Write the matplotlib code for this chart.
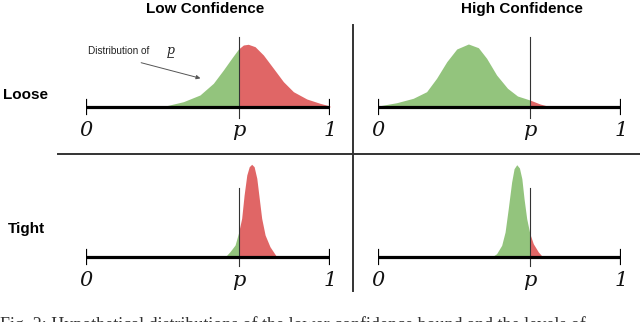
import matplotlib
matplotlib.use('Agg')
import matplotlib.pyplot as plt
from matplotlib.lines import Line2D

# threshold position on the [0, 1] line
p = 0.625

# curves: x in [0, 1], height in pixels above the line
loose_low_x = [0.316, 0.399, 0.467, 0.522, 0.563, 0.597, 0.625, 0.645, 0.665,
               0.693, 0.727, 0.768, 0.809, 0.850, 0.905, 0.959, 1.0]
loose_low_h = [0.5, 5.3, 12, 23.7, 37, 48.7, 58, 62, 62.7,
               60.3, 52, 38.7, 25.3, 15.3, 8, 3.7, 1]

loose_high_x = [0.001, 0.077, 0.145, 0.200, 0.241, 0.283, 0.324, 0.372, 0.413,
                0.447, 0.488, 0.533, 0.574, 0.625, 0.667, 0.708]
loose_high_h = [1, 4.3, 8.7, 15.3, 28.7, 45.3, 58, 63, 59.3,
                48.7, 32, 18.7, 11, 7, 3, 0.3]

tight_low_x = [0.570, 0.590, 0.611, 0.625, 0.638, 0.648, 0.659, 0.669, 0.679,
               0.689, 0.700, 0.710, 0.720, 0.734, 0.754, 0.782]
tight_low_h = [0, 5.3, 12, 24, 38.7, 62, 82, 90.3, 92.7,
               90.3, 78.7, 58.7, 38.7, 22, 10.3, 0]

tight_high_x = [0.468, 0.488, 0.509, 0.523, 0.536, 0.550, 0.560, 0.571, 0.582,
                0.592, 0.601, 0.612, 0.625, 0.639, 0.660, 0.678]
tight_high_h = [0, 3.3, 11.7, 25, 48.3, 75, 88.3, 92.3, 89,
                78.3, 58.3, 38.3, 23.3, 13.3, 5, 0]

col_titles = ['Low Confidence', 'High Confidence']
row_titles = ['Loose', 'Tight']
tick_labels = ['0', 'p', '1']

GREEN = '#93c47d'
RED = '#e06666'
W, H = 640, 322


def fig_box(x0, x1, y_top, y_bot):
    return [x0 / W, 1 - y_bot / H, (x1 - x0) / W, (y_bot - y_top) / H]


def draw_panel(ax, xs, hs, p_top, p_bot):
    left = [(x, h) for x, h in zip(xs, hs) if x <= p]
    right = [(x, h) for x, h in zip(xs, hs) if x >= p]
    if left:
        ax.fill_between([a for a, _ in left], [b for _, b in left], 0,
                        color=GREEN, lw=0, zorder=1)
    if right:
        ax.fill_between([a for a, _ in right], [b for _, b in right], 0,
                        color=RED, lw=0, zorder=1)
    ax.plot([0, 1], [0, 0], color='black', lw=2.3, solid_capstyle='butt', zorder=3)
    for e in (0, 1):
        ax.plot([e, e], [-7, 7], color='black', lw=1.6, zorder=3)
    ax.plot([p, p], [p_bot, p_top], color='#333333', lw=0.8, zorder=2)
    for pos, lab in zip([0, p, 1], tick_labels):
        ax.text(pos, -24, lab, ha='center', va='center', fontsize=15,
                family='DejaVu Serif', style='italic', color='#111111')
    ax.set_xlim(0, 1)
    ax.axis('off')


fig = plt.figure(figsize=(6.4, 3.22), dpi=100)

# top row: baseline at y=107 px, bottom row: baseline at y=257 px
ax_tl = fig.add_axes(fig_box(86, 330, 30, 140))
ax_tl.set_ylim(-33, 77)
ax_tr = fig.add_axes(fig_box(378, 621, 30, 140))
ax_tr.set_ylim(-33, 77)
ax_bl = fig.add_axes(fig_box(86, 330, 160, 290))
ax_bl.set_ylim(-33, 97)
ax_br = fig.add_axes(fig_box(378, 621, 160, 290))
ax_br.set_ylim(-33, 97)

draw_panel(ax_tl, loose_low_x, loose_low_h, 70, -11)
draw_panel(ax_tr, loose_high_x, loose_high_h, 70, -11)
draw_panel(ax_bl, tight_low_x, tight_low_h, 69, -9)
draw_panel(ax_br, tight_high_x, tight_high_h, 69, -9)

for ax in (ax_tl, ax_tr, ax_bl, ax_br):
    ax.patch.set_alpha(0)

# annotation on the first panel
ax_tl.text(0.008, 53, 'Distribution of', fontsize=7.2, family='Liberation Sans',
           ha='left', va='baseline', color='#222222')
ax_tl.text(0.328, 53, 'p', fontsize=9, family='DejaVu Serif', style='italic',
           ha='left', va='baseline', color='#222222')
ax_tl.plot([0.330, 0.357], [49.5, 49.5], color='#222222', lw=0.6)
ax_tl.annotate('', xy=(0.48, 28), xytext=(0.215, 45),
               arrowprops=dict(arrowstyle='-|>', color='#555555', lw=0.7,
                               mutation_scale=6))

# column and row titles
for cx, t in zip([205, 522], col_titles):
    fig.text(cx / W, 1 - 9 / H, t, ha='center', va='center', fontsize=11,
             family='Liberation Sans', weight='bold')
for cy, cxl, t in zip([95, 229], [3, 8], row_titles):
    fig.text(cxl / W, 1 - cy / H, t, ha='left', va='center', fontsize=11,
             family='Liberation Sans', weight='bold')

# divider lines
fig.add_artist(Line2D([353 / W, 353 / W], [1 - 25 / H, 1 - 291 / H],
                      color='#333333', lw=1.4))
fig.add_artist(Line2D([58 / W, 1.0], [1 - 154 / H, 1 - 154 / H],
                      color='#333333', lw=1.4))

# caption, cut by the bottom edge as in the source image
fig.text(0.0, 1 - 316 / H,
         'Fig. 2: Hypothetical distributions of the lower confidence bound and the levels of',
         ha='left', va='top', fontsize=13, family='Liberation Serif', color='#333333')

fig.savefig('out.png', dpi=100)
